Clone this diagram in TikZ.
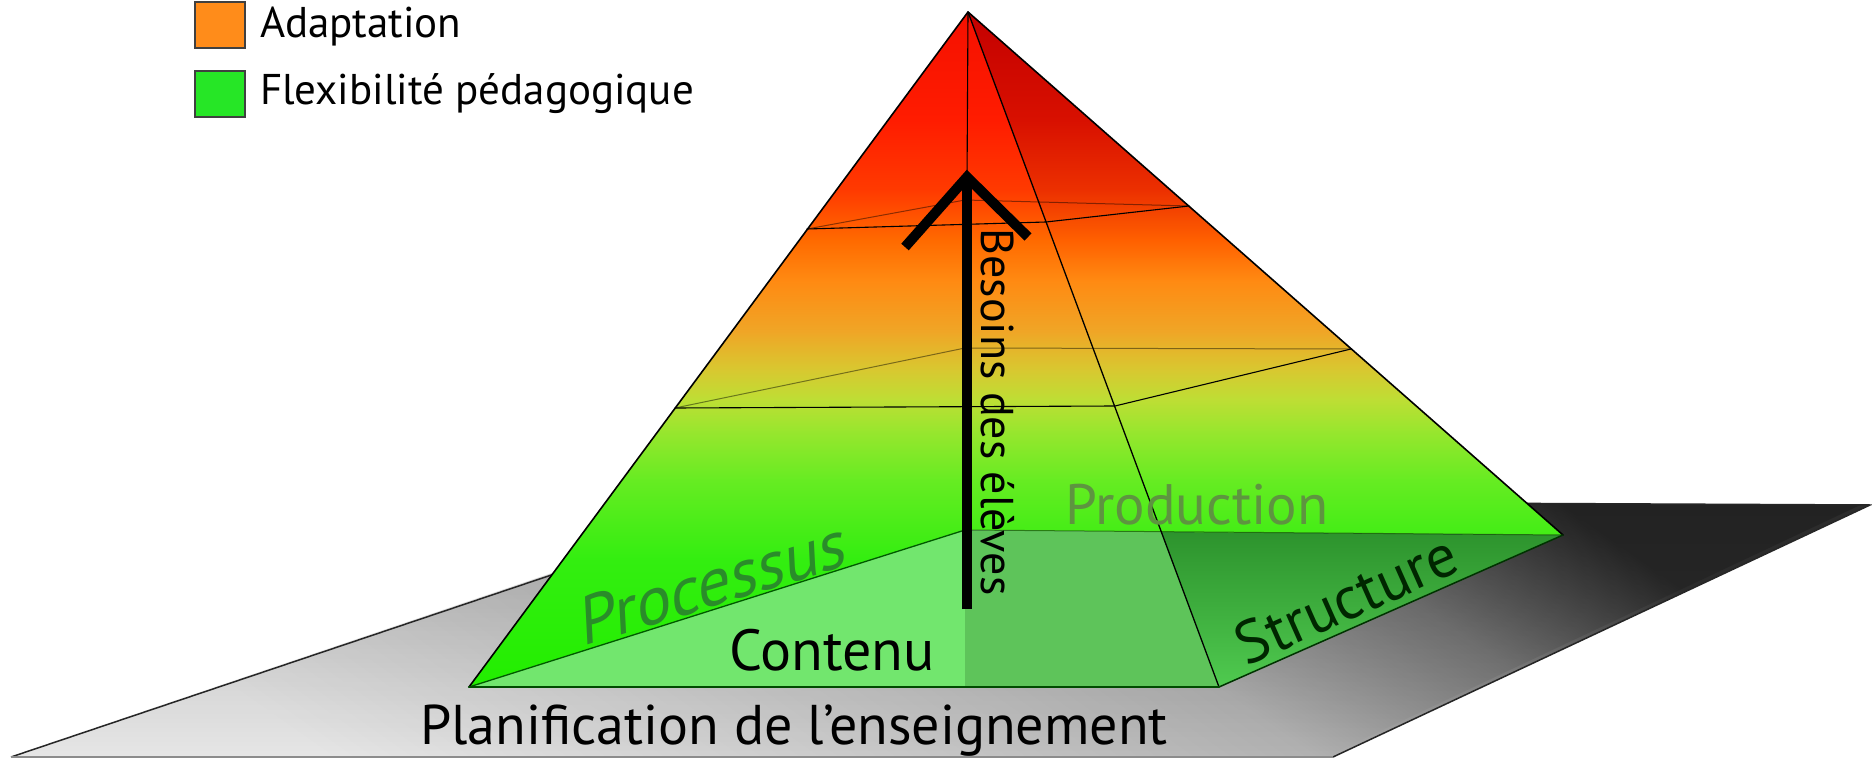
\documentclass[tikz,border=0pt]{standalone}
\usepackage{fontspec}
\setmainfont{PT Sans}
\usetikzlibrary{calc,fadings}
% pyramid colours (bottom -> top)
\definecolor{pg0}{HTML}{22EE00}
\definecolor{pg1}{HTML}{33EE10}
\definecolor{pg2}{HTML}{66EC22}
\definecolor{pg3}{HTML}{99E62E}
\definecolor{pg4}{HTML}{BEDE34}
\definecolor{pg5}{HTML}{D8C830}
\definecolor{pg6}{HTML}{F0A526}
\definecolor{pg7}{HTML}{FF8A12}
\definecolor{pg8}{HTML}{FF6A00}
\definecolor{pg9}{HTML}{FF3A00}
\definecolor{pg10}{HTML}{FF1C00}
\definecolor{pg11}{HTML}{F51000}
\definecolor{pr8}{HTML}{FF6000}
\definecolor{pr9}{HTML}{EC3000}
\definecolor{pr10}{HTML}{D81000}
\definecolor{pr11}{HTML}{C40000}
\definecolor{gr0}{HTML}{E6E6E6}
\definecolor{gr1}{HTML}{CACACA}
\definecolor{gr2}{HTML}{B2B2B2}
\definecolor{gr3}{HTML}{7A7A7A}
\definecolor{gr4}{HTML}{2C2C2C}
\definecolor{legorange}{HTML}{FF8C1A}
\definecolor{leggreen}{HTML}{26E626}
\definecolor{baseA}{HTML}{72E66E}
\definecolor{baseB}{HTML}{5EC45A}
\definecolor{baseC}{HTML}{3CC43C}
\definecolor{procgreen}{HTML}{2A8C2A}
\definecolor{prodgreen}{HTML}{5E9440}
\pgfdeclareverticalshading{pyrfront}{100bp}{color(0bp)=(pg0); color(25bp)=(pg0); color(34.4bp)=(pg1); color(40.3bp)=(pg2); color(44bp)=(pg3); color(46.3bp)=(pg4); color(48.5bp)=(pg5); color(51.4bp)=(pg6); color(55.1bp)=(pg7); color(58.1bp)=(pg8); color(61.8bp)=(pg9); color(67bp)=(pg10); color(75bp)=(pg11); color(100bp)=(pg11)}
\pgfdeclareverticalshading{pyrright}{100bp}{color(0bp)=(pg0); color(25bp)=(pg0); color(34.4bp)=(pg1); color(40.3bp)=(pg2); color(44bp)=(pg3); color(46.3bp)=(pg4); color(48.5bp)=(pg5); color(51.4bp)=(pg6); color(55.1bp)=(pg7); color(58.1bp)=(pr8); color(61.8bp)=(pr9); color(67bp)=(pr10); color(75bp)=(pr11); color(100bp)=(pr11)}
\pgfdeclarehorizontalshading{groundshade}{100bp}{color(0bp)=(gr0); color(25bp)=(gr0); color(42bp)=(gr1); color(56bp)=(gr2); color(66bp)=(gr3); color(75bp)=(gr4); color(100bp)=(gr4)}
\begin{document}
\begin{tikzpicture}[x=1pt,y=-1pt,
  edge/.style={line width=1.6pt, line join=round, line cap=round},
  thinedge/.style={line width=1.1pt, line cap=round},
  backedge/.style={line width=1.0pt, black, opacity=0.45},
  lbl/.style={inner sep=0pt, outer sep=0pt},
  legbox/.style={draw=black!75, line width=1.5pt, minimum width=50pt, minimum height=46pt, inner sep=0pt},
  needarrow/.style={line width=10pt, line join=miter, miter limit=10}]
\useasboundingbox (0,0) rectangle (1872,759);
\fill[white] (0,0) rectangle (1872,759);
% ground plane
\coordinate (G1) at (11,757);
\coordinate (G2) at (774,500);
\coordinate (G3) at (1870,505);
\coordinate (G4) at (1333,757);
\shade[shading=groundshade, shading angle=55] (G1) -- (G2) -- (G3) -- (G4) -- cycle;
\fill[black, fill opacity=0.22, path fading=south] (G1) -- (G2) -- (G3) -- (G4) -- cycle;
\draw[line width=1.5pt, black!85] (G4) -- (G3) -- (G2) -- (G1);
\draw[line width=1.2pt, black!45] (G1) -- (G4);
% pyramid points
\coordinate (A) at (968,12);
\coordinate (FL) at (469,687);
\coordinate (FR) at (1219,687);
\coordinate (BR) at (1563,535);
\coordinate (BL) at (965,530);
\coordinate (M) at (1161,532);
\coordinate (Vb) at (965,687);
\coordinate (S1a) at (807,229);
\coordinate (S1b) at (1046,222);
\coordinate (S1c) at (1189,206);
\coordinate (S1d) at (965,200);
\coordinate (S2a) at (675,408);
\coordinate (S2b) at (1115,406);
\coordinate (S2c) at (1351,349);
\coordinate (S2d) at (965,348);
% faces
\shade[shading=pyrfront] (A) -- (FL) -- (FR) -- cycle;
\shade[shading=pyrright] (A) -- (FR) -- (BR) -- cycle;
% base seen through the pyramid
\fill[baseA] (FL) -- (BL) -- (Vb) -- cycle;
\fill[baseB] (BL) -- (M) -- (FR) -- (Vb) -- cycle;
\shade[top color=baseC!75!black, bottom color=baseC!90!white] (M) -- (BR) -- (FR) -- cycle;
% hidden edges
\draw[line width=1.3pt, green!35!black] (FL) -- (BL);
\draw[backedge] (BL) -- (BR);
\draw[thinedge] (A) -- (BL);
% sections
\draw[thinedge] (S1a) -- (S1b) -- (S1c);
\draw[backedge] (S1a) -- (S1d) -- (S1c);
\draw[thinedge] (S2a) -- (S2b) -- (S2c);
\draw[backedge] (S2a) -- (S2d) -- (S2c);
% outline
\draw[edge] (A) -- (FL);
\draw[edge] (A) -- (BR);
\draw[line width=1.3pt] (A) -- (FR);
\draw[edge, line width=1.5pt, black!80!green] (FR) -- (BR);
\draw[edge, line width=2.2pt, black!70!green] (FL) -- (FR);
% arrow
\coordinate (arrB) at (967,609);
\coordinate (arrT) at (967,177);
\coordinate (chL) at (905,247);
\coordinate (chR) at (1028,237);
\draw[needarrow] (arrB) -- (arrT);
\draw[needarrow] (chL) -- (arrT) -- (chR);
% labels
\node[lbl, rotate=-90, font=\fontsize{46}{50}\selectfont] (need) at (998,412) {Besoins des élèves};
\node[lbl, font=\fontsize{58}{62}\selectfont] (cont) at (832,650) {Contenu};
\node[lbl, text=prodgreen, font=\fontsize{57}{60}\selectfont] (prod) at (1197,505) {Production};
\node[lbl, text=procgreen, rotate=17, xslant=0.25, font=\fontsize{67}{70}\selectfont] (proc) at (714,582) {Processus};
\node[lbl, text=black!85!green, rotate=24, font=\fontsize{60}{64}\selectfont] (struc) at (1346,599) {Structure};
\node[lbl, font=\fontsize{56}{60}\selectfont] (plan) at (794,731) {Planification de l’enseignement};
% legend
\node[legbox, fill=legorange] (k1) at (220,25) {};
\node[legbox, fill=leggreen] (k2) at (220,94) {};
\node[lbl, anchor=west, font=\fontsize{43}{47}\selectfont] (t1) at (260,27) {Adaptation};
\node[lbl, anchor=west, font=\fontsize{43}{47}\selectfont] (t2) at (260,94) {Flexibilité pédagogique};
\end{tikzpicture}
\end{document}
